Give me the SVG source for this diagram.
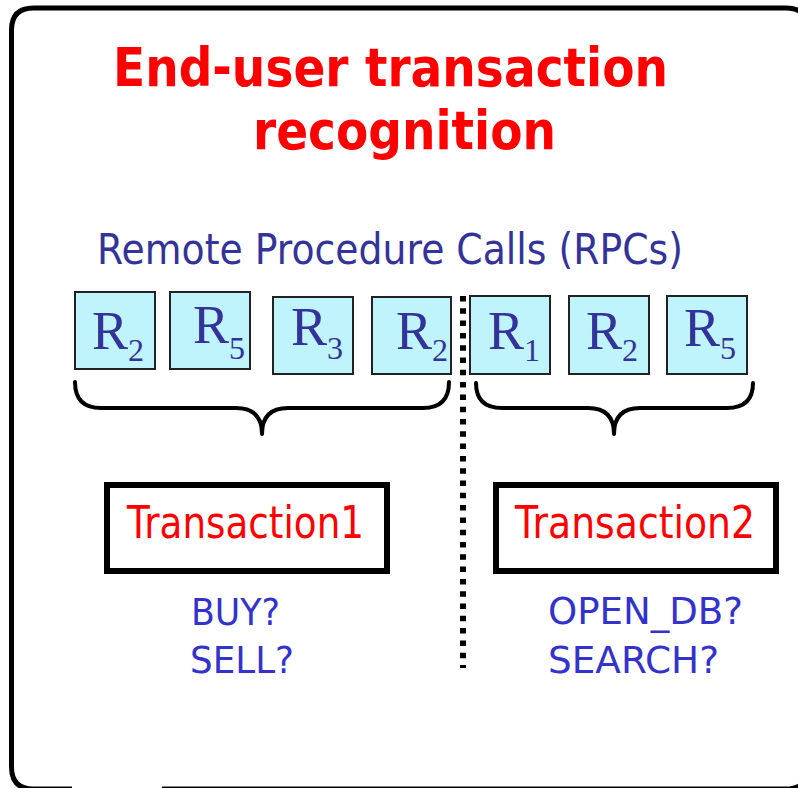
<svg xmlns="http://www.w3.org/2000/svg" width="798" height="788" viewBox="0 0 798 788">
  <style>
    .title { font-family: "DejaVu Sans", Verdana, sans-serif; font-weight: bold; font-size: 53px; fill: #ff0000; }
    .rpc-head { font-family: "DejaVu Sans", Verdana, sans-serif; font-size: 42px; fill: #333399; }
    .rbox { fill: #bff4fc; stroke: #222222; stroke-width: 2; }
    .rtext { font-family: "Liberation Serif", "Times New Roman", serif; font-size: 54px; fill: #333399; }
    .rsub { font-size: 32px; }
    .brace { fill: none; stroke: #000000; stroke-width: 4; stroke-linecap: round; stroke-linejoin: round; }
    .tbox { fill: #ffffff; stroke: #000000; stroke-width: 6; }
    .tname { font-family: "DejaVu Sans", Verdana, sans-serif; font-size: 44px; fill: #ff0000; }
    .op { font-family: "DejaVu Sans", Verdana, sans-serif; font-size: 38px; fill: #3333cc; }
  </style>

  <rect width="798" height="788" fill="#ffffff"/>

  <!-- outer frame, open along the bottom edge -->
  <path d="M162,789 L786,789 Q808,789 808,767 L808,30 Q808,8 786,8 L33.5,8 Q11.5,8 11.5,30 L11.5,767 Q11.5,789 33.5,789 L72,789"
        fill="none" stroke="#000000" stroke-width="5"/>

  <!-- heading -->
  <g id="title">
    <text class="title" x="113" y="86" textLength="555" lengthAdjust="spacingAndGlyphs">End-user transaction</text>
    <text class="title" x="253" y="149" textLength="303" lengthAdjust="spacingAndGlyphs">recognition</text>
  </g>

  <g id="rpc-heading">
    <text class="rpc-head" x="97" y="264" textLength="586" lengthAdjust="spacingAndGlyphs">Remote Procedure Calls (RPCs)</text>
  </g>

  <!-- RPC boxes: R with a subscript index -->
  <g id="rpc1">
    <rect class="rbox" x="75" y="292" width="80" height="77"/>
    <text class="rtext" x="92" y="349">R<tspan class="rsub" dy="12">2</tspan></text>
  </g>
  <g id="rpc2">
    <rect class="rbox" x="170" y="292" width="80" height="77"/>
    <text class="rtext" x="193" y="343">R<tspan class="rsub" dy="16">5</tspan></text>
  </g>
  <g id="rpc3">
    <rect class="rbox" x="273" y="297" width="80" height="77"/>
    <text class="rtext" x="291" y="345">R<tspan class="rsub" dy="14">3</tspan></text>
  </g>
  <g id="rpc4">
    <rect class="rbox" x="372" y="297" width="79" height="77"/>
    <text class="rtext" x="396" y="349">R<tspan class="rsub" dy="12">2</tspan></text>
  </g>
  <g id="rpc5">
    <rect class="rbox" x="470" y="296" width="80" height="78"/>
    <text class="rtext" x="488" y="349">R<tspan class="rsub" dy="12">1</tspan></text>
  </g>
  <g id="rpc6">
    <rect class="rbox" x="569" y="296" width="80" height="78"/>
    <text class="rtext" x="586" y="349">R<tspan class="rsub" dy="12">2</tspan></text>
  </g>
  <g id="rpc7">
    <rect class="rbox" x="667" y="296" width="80" height="78"/>
    <text class="rtext" x="684" y="346">R<tspan class="rsub" dy="13">5</tspan></text>
  </g>

  <!-- transactions -->
  <g id="transaction1">
    <rect class="tbox" x="107" y="485" width="280" height="86"/>
    <text class="tname" x="127" y="538" textLength="237" lengthAdjust="spacingAndGlyphs">Transaction1</text>
  </g>
  <g id="transaction2">
    <rect class="tbox" x="496" y="485" width="280" height="86"/>
    <text class="tname" x="515" y="538" textLength="240" lengthAdjust="spacingAndGlyphs">Transaction2</text>
  </g>

  <g id="ops1">
    <text class="op" x="191" y="625" textLength="89" lengthAdjust="spacingAndGlyphs">BUY?</text>
    <text class="op" x="190" y="673" textLength="104" lengthAdjust="spacingAndGlyphs">SELL?</text>
  </g>
  <g id="ops2">
    <text class="op" x="548" y="624" textLength="195" lengthAdjust="spacingAndGlyphs">OPEN_DB?</text>
    <text class="op" x="548" y="673" textLength="171" lengthAdjust="spacingAndGlyphs">SEARCH?</text>
  </g>

  <!-- braces and separator -->
  <g id="connectors">
    <path class="brace" d="M75,382 Q75,408 101,408 L236,408 Q262,408 262,434 Q262,408 288,408 L423,408 Q449,408 449,382"/>
    <path class="brace" d="M476,383 Q476,408 502,408 L588,408 Q614,408 614,434 Q614,408 640,408 L727,408 Q753,408 753,383"/>
    <line x1="463" y1="296" x2="463" y2="668" stroke="#000000" stroke-width="6" stroke-dasharray="5.5 6.8"/>
  </g>
</svg>
